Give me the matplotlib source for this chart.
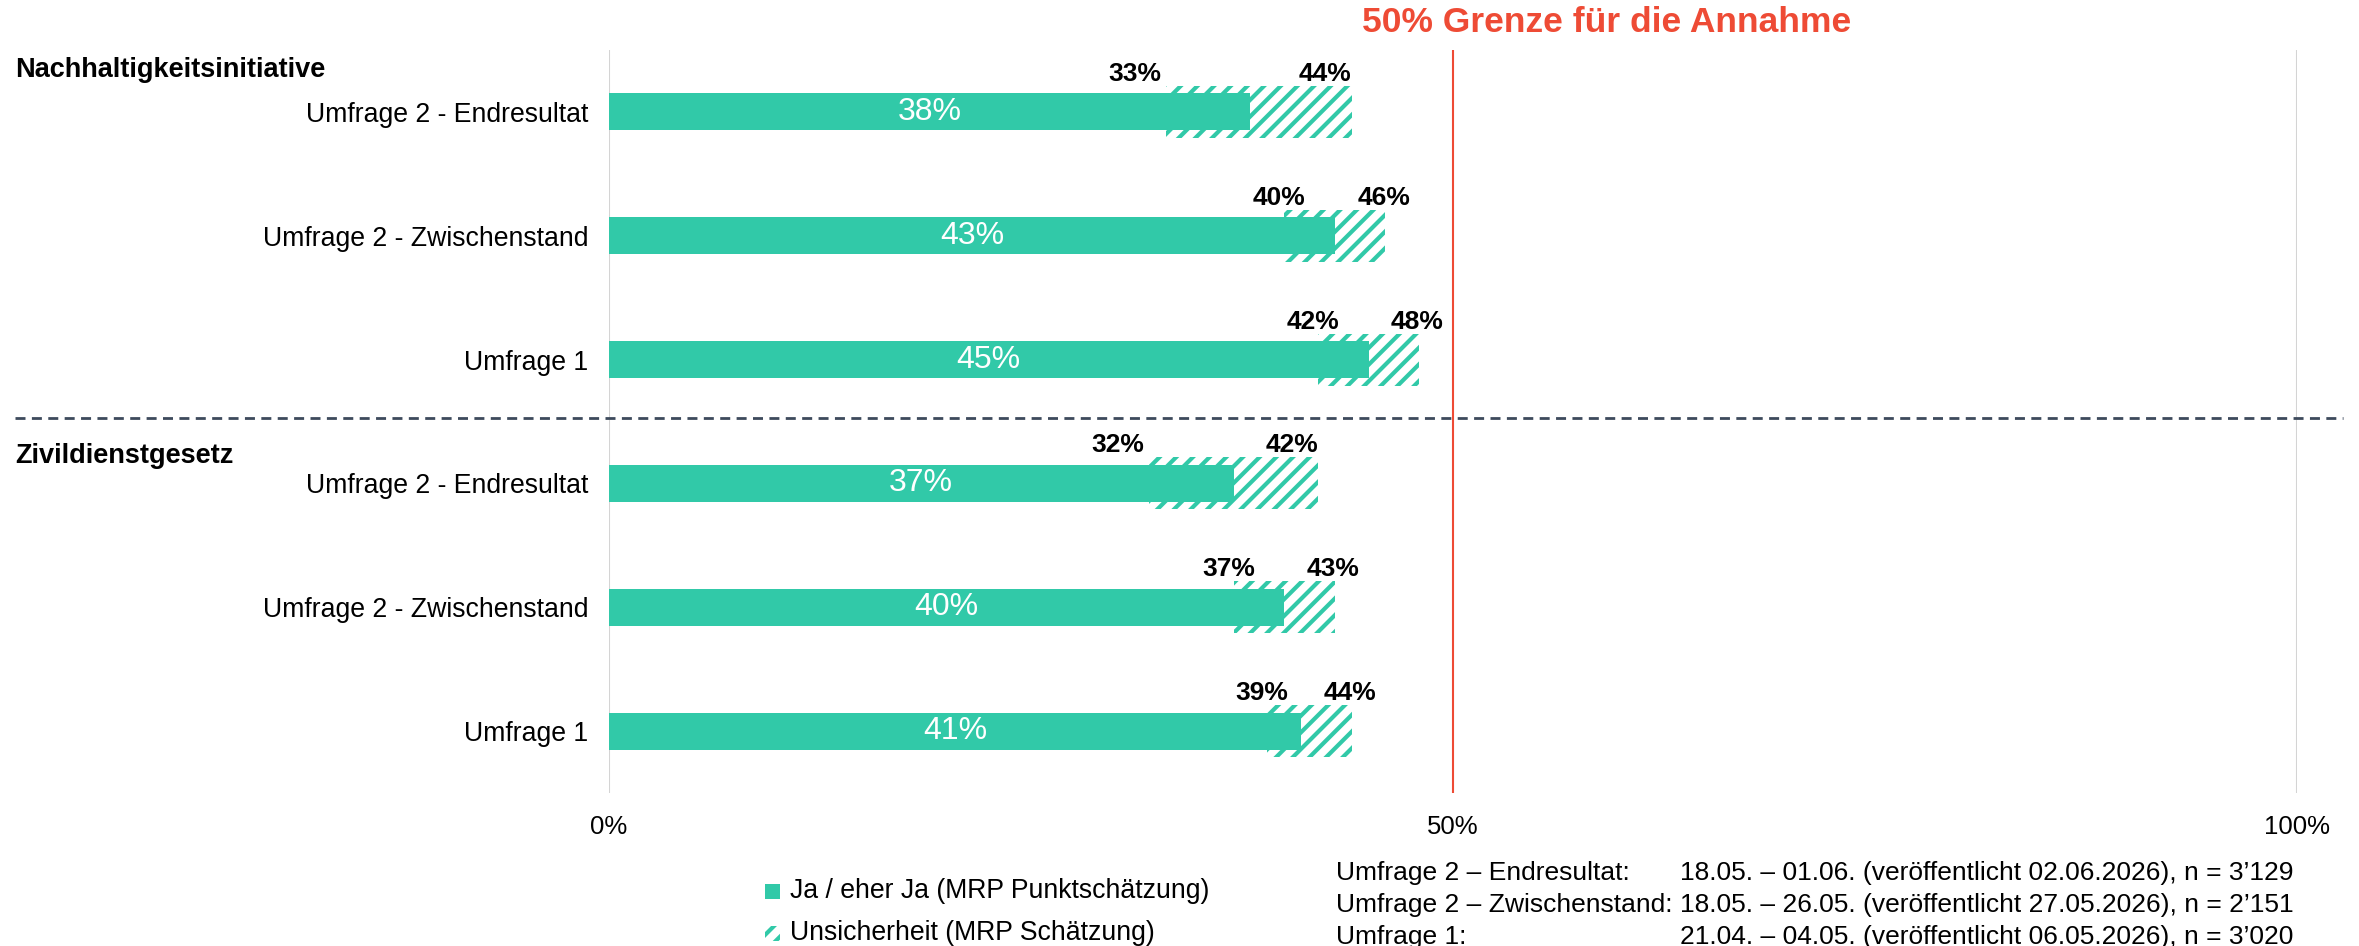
import matplotlib
matplotlib.use("Agg")
import matplotlib.pyplot as plt
from matplotlib.patches import Rectangle
from matplotlib.lines import Line2D
from matplotlib.transforms import blended_transform_factory

plt.rcParams['font.family'] = ['Liberation Sans', 'DejaVu Sans']
plt.rcParams['hatch.linewidth'] = 3.0

# ---- data ----
groups = ["Nachhaltigkeitsinitiative", "Zivildienstgesetz"]
surveys = ["Umfrage 2 - Endresultat", "Umfrage 2 - Zwischenstand", "Umfrage 1"]
point_nh = [38, 43, 45]
low_nh = [33, 40, 42]
high_nh = [44, 46, 48]
point_zd = [37, 40, 41]
low_zd = [32, 37, 39]
high_zd = [42, 43, 44]
xticks = [0, 50, 100]
xtick_labels = ["0%", "50%", "100%"]
threshold = 50
threshold_label = "50% Grenze für die Annahme"
legend_labels = ["Ja / eher Ja (MRP Punktschätzung)", "Unsicherheit (MRP Schätzung)"]
foot_labels = ["Umfrage 2 – Endresultat:", "Umfrage 2 – Zwischenstand:", "Umfrage 1:"]
foot_dates = ["18.05. – 01.06. (veröffentlicht 02.06.2026), n = 3’129",
              "18.05. – 26.05. (veröffentlicht 27.05.2026), n = 2’151",
              "21.04. – 04.05. (veröffentlicht 06.05.2026), n = 3’020"]

TEAL = "#31C9A8"
RED = "#EE4B35"
W, H = 2359, 946

fig = plt.figure(figsize=(W / 100, H / 100), dpi=100)
ax = fig.add_axes([609 / W, 1 - 793 / H, 1688 / W, 743 / H])

points = point_nh + point_zd
lows = low_nh + low_zd
highs = high_nh + high_zd
labels = surveys + surveys
ys = list(range(len(points)))

# uncertainty (hatched) bars
ax.barh(ys, [h - l for h, l in zip(highs, lows)], left=lows, height=0.42,
        color='none', edgecolor=TEAL, hatch='//', linewidth=0, zorder=2)
# point estimate bars
ax.barh(ys, points, height=0.30, color=TEAL, linewidth=0, zorder=3)

for y, p, lo, hi in zip(ys, points, lows, highs):
    ax.text(p / 2, y, f"{p}%", color='white', fontsize=23, ha='center', va='center', zorder=4)
    ty = y - 0.25
    if hi - lo >= 10:
        ax.text(lo - 0.3, ty, f"{lo}%", fontsize=19, fontweight='bold', ha='right', va='baseline')
        ax.text(hi, ty, f"{hi}%", fontsize=19, fontweight='bold', ha='right', va='baseline')
    else:
        ax.text(lo - 0.3, ty, f"{lo}%", fontsize=19, fontweight='bold', ha='center', va='baseline')
        ax.text(hi - 0.1, ty, f"{hi}%", fontsize=19, fontweight='bold', ha='center', va='baseline')

ax.set_xlim(0, 100)
ax.set_ylim(len(points) - 0.5, -0.5)
ax.set_yticks(ys)
ax.set_yticklabels(labels, fontsize=19.2)
ax.set_xticks(xticks)
ax.set_xticklabels(xtick_labels, fontsize=18.5)
ax.tick_params(axis='y', length=0, pad=15)
ax.tick_params(axis='x', length=0, pad=16)
for s in ax.spines.values():
    s.set_visible(False)

ax.axvline(0, color='#D4D4D4', lw=1.5, zorder=1)
ax.axvline(100, color='#D4D4D4', lw=1.5, zorder=1)
ax.axvline(threshold, color=RED, lw=1.5, zorder=1)

# separator
bt = blended_transform_factory(fig.transFigure, ax.transData)
sep = Line2D([15 / W, 2343 / W], [2.47, 2.47], transform=bt, color='#3D4A5C', lw=2,
             dashes=(3.6, 2.3), clip_on=False)
ax.add_line(sep)

# group labels
ax.text(15 / W, -0.34, groups[0], transform=bt, fontsize=19.5, fontweight='bold', ha='left', va='center')
ax.text(15 / W, 2.78, groups[1], transform=bt, fontsize=19.5, fontweight='bold', ha='left', va='center')

# threshold title
fig.text(1362 / W, 1 - 22 / H, threshold_label, color=RED, fontsize=25.5, fontweight='bold',
         ha='left', va='center')

# legend (manual)
sq = 15
fig.patches.append(Rectangle(((772 - sq / 2) / W, 1 - (891 + sq / 2) / H), sq / W, sq / H,
                             transform=fig.transFigure, facecolor=TEAL, edgecolor='none'))
fig.patches.append(Rectangle(((772 - sq / 2) / W, 1 - (933 + sq / 2) / H), sq / W, sq / H,
                             transform=fig.transFigure, facecolor='none', edgecolor=TEAL,
                             hatch='//', linewidth=0))
fig.text(790 / W, 1 - 891 / H, legend_labels[0], fontsize=19.2, ha='left', va='center')
fig.text(790 / W, 1 - 933 / H, legend_labels[1], fontsize=19.2, ha='left', va='center')

# footnote
renderer = fig.canvas.get_renderer()
foot_y = [873, 905, 937]
tx = []
for lab, yy in zip(foot_labels, foot_y):
    tx.append(fig.text(1336 / W, 1 - yy / H, lab, fontsize=19, ha='left', va='center'))
xmax = max(t.get_window_extent(renderer).x1 for t in tx)
date_x = (xmax + 8) / W
for d, yy in zip(foot_dates, foot_y):
    fig.text(date_x, 1 - yy / H, d, fontsize=19, ha='left', va='center')

fig.savefig("out.png", dpi=100, facecolor='white')
